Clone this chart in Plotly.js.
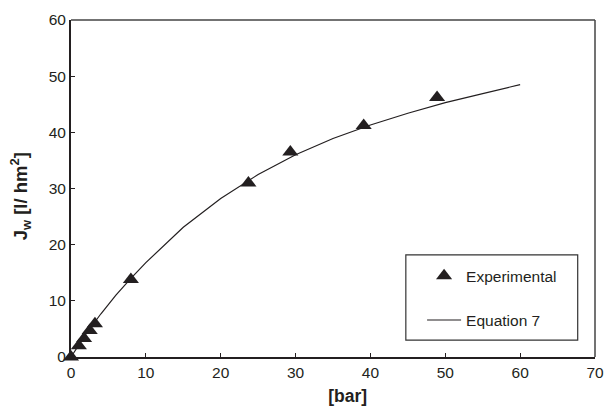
<!DOCTYPE html>
<html>
<head>
<meta charset="utf-8">
<script src="https://cdn.plot.ly/plotly-3.0.1.min.js"></script>
<style>html,body{margin:0;padding:0;background:#fff;}#chart{width:605px;height:412px;}</style>
</head>
<body>
<div id="chart"></div>
<script>
// Experimental points
var expPressure = [0, 1.05, 1.75, 2.5, 3.2, 8.0, 23.7, 29.3, 39.1, 48.9];
var expFlux     = [0, 2.0, 3.3, 4.7, 5.9, 13.8, 31.0, 36.5, 41.2, 46.2];
// Equation 7 curve
var eqPressure = [0, 2, 4, 6, 8, 10, 15, 20, 25, 30, 35, 40, 45, 50, 55, 60];
var eqFlux     = [0, 4.1, 7.7, 11.0, 14.0, 16.8, 23.1, 28.2, 32.5, 36.0, 38.9, 41.3, 43.4, 45.3, 46.9, 48.5];
var xTicks = [0, 10, 20, 30, 40, 50, 60, 70];
var yTicks = [0, 10, 20, 30, 40, 50, 60];

var dark = '#231f20';
var font = 'Liberation Sans, Arial, sans-serif';

var traces = [
  {x: expPressure, y: expFlux, mode: 'markers', type: 'scatter', name: 'Experimental',
   legendgroup: 'a',
   marker: {symbol: 'triangle-up', size: 14, color: dark}, cliponaxis: false},
  {x: eqPressure, y: eqFlux, mode: 'lines', type: 'scatter', name: 'Equation 7',
   legendgroup: 'b',
   line: {color: dark, width: 1.2}}
];

var layout = {
  width: 605, height: 412,
  margin: {l: 71, r: 10, t: 20, b: 55},
  paper_bgcolor: '#fff', plot_bgcolor: '#fff',
  font: {family: font, size: 15.5, color: dark},
  showlegend: true,
  legend: {x: 0.67, y: 0.29, xanchor: 'left', yanchor: 'top',
           bgcolor: 'rgba(0,0,0,0)', borderwidth: 0,
           traceorder: 'grouped', tracegroupgap: 21, itemwidth: 34,
           font: {family: font, size: 15.5, color: dark}},
  xaxis: {range: [0, 70], tickvals: xTicks, ticks: 'inside', ticklen: 4, tickwidth: 1,
          tickcolor: dark, showline: true, linecolor: dark, linewidth: 2,
          showgrid: false, zeroline: false, fixedrange: true,
          tickfont: {family: font, size: 15.5, color: dark},
          title: {text: '<b>\u00a0\u00a0\u00a0\u00a0\u00a0\u00a0[bar]</b>', standoff: 10, font: {family: font, size: 17.5, color: dark}}},
  yaxis: {range: [0, 60], tickvals: yTicks, ticks: 'inside', ticklen: 4, tickwidth: 1,
          tickcolor: dark, showline: true, linecolor: dark, linewidth: 2,
          showgrid: false, zeroline: false, fixedrange: true,
          tickfont: {family: font, size: 15.5, color: dark},
          title: {text: '<b>J<sub>w</sub> [l/ hm<sup>2</sup>]\u00a0\u00a0\u00a0</b>', standoff: 16, font: {family: font, size: 18.5, color: dark}}},
  shapes: [
    {type: 'line', xref: 'paper', yref: 'paper', x0: 0, x1: 1, y0: 1, y1: 1, line: {color: '#444', width: 1.5}},
    {type: 'line', xref: 'paper', yref: 'paper', x0: 1, x1: 1, y0: 0, y1: 1, line: {color: '#444', width: 1.5}},
    {type: 'rect', xref: 'paper', yref: 'paper', x0: 0.639, x1: 0.967, y0: 0.050, y1: 0.303,
     line: {color: '#333', width: 1.2}, fillcolor: 'rgba(0,0,0,0)'}
  ]
};

Plotly.newPlot('chart', traces, layout, {displayModeBar: false, staticPlot: true});
</script>
</body>
</html>
